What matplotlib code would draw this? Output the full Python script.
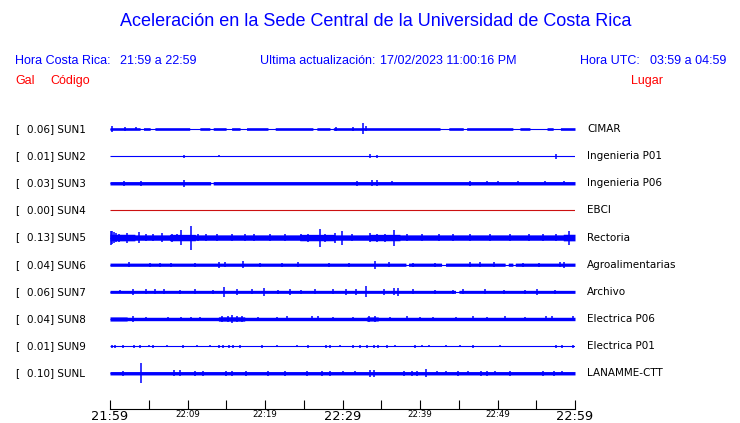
import numpy as np
import matplotlib
matplotlib.use('Agg')
import matplotlib.pyplot as plt

W, H = 740, 423
BLUE = '#0000ff'
RED = '#ff0000'
SANS = 'Liberation Sans'

CODES = ['SUN1', 'SUN2', 'SUN3', 'SUN4', 'SUN5', 'SUN6', 'SUN7', 'SUN8', 'SUN9', 'SUNL']
GAL = ['0.06', '0.01', '0.03', '0.00', '0.13', '0.04', '0.06', '0.04', '0.01', '0.10']
PLACES = ['CIMAR', 'Ingenieria P01', 'Ingenieria P06', 'EBCI', 'Rectoria', 'Agroalimentarias',
          'Archivo', 'Electrica P06', 'Electrica P01', 'LANAMME-CTT']
# background envelope half-amplitude of each trace (0.01 Gal-ish units, 1 unit ~ 1 px)
BASE_AMP = [1.3, 0.5, 1.7, 0.5, 2.7, 1.6, 1.5, 1.7, 0.5, 1.7]
TRACE_COLORS = [BLUE, BLUE, BLUE, '#cc1010', BLUE, BLUE, BLUE, BLUE, BLUE, BLUE]

# minutes after 21:59
TICK_MIN = np.arange(0, 61, 5)
TICK_LABELS = ['21:59', '', '22:09', '', '22:19', '', '22:29', '', '22:39', '', '22:49', '', '22:59']
BIG_LABELS = ['21:59', '22:29', '22:59']

# quiet stretches (trace drops to a thin line): (start, end)
SUN1_QUIET = [(3.9, 4.3), (5.2, 5.8), (10.3, 11.6), (12.9, 13.3), (15.0, 15.7), (16.8, 17.6),
              (20.4, 21.3), (26.2, 26.7), (28.4, 28.8), (42.6, 43.7), (45.6, 46.0), (52.0, 52.9),
              (54.2, 56.4), (57.2, 58.1)]
SUN3_QUIET = [(13.0, 13.3)]
SUN6_QUIET = [(38.2, 38.5), (42.8, 43.3), (51.0, 51.4), (52.0, 52.3)]
SUN7_QUIET = [(44.6, 45.0)]

# louder stretches: (start, end, half-amplitude)
SUN5_BURSTS = [(0.0, 3.2, 3.3), (7.7, 11.0, 3.2), (24.5, 29.0, 3.2), (33.5, 37.4, 3.2),
               (58.5, 60.0, 3.3)]
SUN8_BURSTS = [(0.0, 2.2, 2.1), (14.0, 17.4, 2.2), (33.1, 34.6, 2.1)]

# isolated peaks: (minute, half-amplitude)
SUN1_PEAKS = [(0.3, 3.0), (1.9, 2.0), (3.4, 1.5), (29.2, 2.0), (31.3, 2.0), (32.6, 5.5), (33.0, 2.5)]
SUN2_PEAKS = [(9.5, 1.5), (14.1, 1.0), (33.6, 2.0), (34.4, 1.5), (57.5, 2.5)]
SUN3_PEAKS = [(1.8, 2.5), (4.0, 2.5), (9.5, 3.5), (31.9, 2.5), (33.8, 3.0), (34.5, 3.0), (36.4, 2.0),
              (46.5, 2.5), (48.6, 2.0), (50.0, 2.0), (52.7, 2.0), (56.1, 2.0), (58.6, 2.0)]
SUN4_PEAKS = []
SUN5_PEAKS = [(0.1, 7.0), (0.3, 6.5), (0.5, 5.5), (0.8, 4.5), (1.2, 4.0), (2.2, 5.0), (3.7, 5.5),
              (4.6, 3.5), (5.5, 3.5), (6.7, 4.5), (8.0, 4.0), (8.6, 3.5), (9.2, 7.5), (10.5, 12.0),
              (11.3, 3.5), (12.4, 3.5), (13.8, 3.5), (15.7, 3.5), (17.4, 3.5), (18.6, 3.5),
              (20.6, 3.5), (22.6, 3.5), (24.7, 3.5), (25.6, 4.0), (27.1, 9.0), (27.8, 4.0),
              (29.0, 5.0), (29.9, 7.0), (31.2, 3.5), (33.6, 4.5), (34.4, 4.0), (35.5, 4.0),
              (36.7, 8.0), (38.3, 3.5), (40.2, 3.5), (42.4, 3.5), (44.3, 3.5), (46.5, 3.5),
              (49.0, 3.5), (51.6, 3.5), (54.0, 3.5), (55.9, 3.5), (57.6, 3.5), (59.2, 7.0)]
SUN6_PEAKS = [(2.4, 2.5), (5.2, 2.0), (6.5, 2.0), (7.9, 2.0), (11.0, 2.0), (14.0, 3.0), (14.8, 2.5),
              (17.1, 3.5), (19.4, 2.0), (22.2, 2.0), (24.2, 2.5), (28.2, 2.0), (30.8, 2.0),
              (34.2, 4.0), (36.0, 2.5), (39.1, 2.0), (41.9, 2.0), (46.5, 2.5), (47.7, 2.5),
              (49.5, 2.5), (53.3, 2.0), (55.4, 2.0), (58.0, 2.5), (58.6, 3.0)]
SUN7_PEAKS = [(1.3, 1.5), (3.0, 3.0), (4.6, 2.5), (5.8, 2.5), (7.0, 2.5), (9.0, 2.0), (11.0, 2.5),
              (13.3, 2.0), (14.7, 5.0), (16.4, 3.0), (18.3, 2.5), (19.9, 4.0), (21.7, 2.0),
              (23.2, 3.0), (24.7, 2.0), (26.5, 2.5), (28.8, 2.5), (30.5, 3.0), (31.8, 3.0),
              (33.0, 5.5), (35.3, 3.0), (36.6, 3.5), (37.2, 4.0), (39.1, 2.5), (41.9, 2.0),
              (44.3, 2.0), (45.6, 2.5), (48.4, 2.5), (50.8, 2.0), (53.5, 2.0), (55.1, 3.0), (57.4, 2.0)]
SUN8_PEAKS = [(3.0, 3.0), (4.7, 2.0), (7.5, 2.0), (9.2, 2.0), (10.5, 2.0), (11.6, 2.0), (14.5, 3.0),
              (15.2, 3.0), (15.7, 4.0), (16.4, 3.0), (17.0, 3.0), (19.1, 2.0), (21.5, 2.0),
              (22.8, 2.5), (26.1, 2.5), (26.8, 2.5), (28.8, 2.0), (31.4, 2.0), (33.4, 3.0),
              (34.2, 3.0), (36.1, 2.0), (38.3, 2.5), (40.0, 2.0), (41.7, 2.0), (44.7, 2.0),
              (46.9, 2.5), (48.6, 2.0), (51.0, 2.5), (53.5, 2.0), (56.3, 2.5), (57.0, 2.5), (59.8, 2.5)]
SUN9_PEAKS = [(0.2, 1.5), (0.6, 1.5), (1.7, 1.5), (3.1, 1.5), (3.9, 1.5), (5.0, 1.0), (5.5, 1.5),
              (7.3, 1.0), (9.4, 1.5), (11.2, 1.0), (12.9, 1.0), (14.0, 1.5), (14.6, 1.5),
              (15.3, 1.5), (15.9, 1.5), (16.8, 1.5), (19.6, 1.5), (21.5, 1.0), (24.1, 1.0),
              (25.6, 1.5), (27.9, 1.5), (28.4, 1.5), (29.7, 1.0), (31.4, 1.5), (32.3, 1.5),
              (33.1, 1.5), (34.0, 1.5), (34.6, 1.5), (35.7, 1.5), (36.8, 1.0), (39.4, 1.5),
              (40.2, 1.0), (41.1, 1.0), (43.4, 1.0), (45.2, 1.0), (46.9, 1.5), (50.3, 1.0),
              (57.6, 1.5), (58.3, 1.5), (59.7, 1.5)]
SUNL_PEAKS = [(1.7, 2.5), (4.0, 10.0), (8.2, 3.0), (9.0, 3.0), (11.0, 2.5), (12.0, 2.5), (15.0, 2.5),
              (15.7, 2.5), (17.6, 2.5), (20.4, 2.5), (22.6, 2.5), (25.4, 2.5), (27.3, 2.5),
              (28.4, 2.5), (30.1, 2.0), (31.6, 2.0), (33.5, 3.5), (34.0, 3.5), (37.9, 2.5),
              (39.0, 2.5), (39.6, 2.5), (40.8, 4.0), (42.2, 2.0), (43.4, 2.0), (44.9, 2.5),
              (46.2, 2.0), (47.9, 2.5), (48.6, 2.5), (49.7, 2.0), (51.6, 2.5), (55.9, 2.5),
              (57.3, 2.5), (58.3, 2.0)]

QUIET = {'SUN1': SUN1_QUIET, 'SUN3': SUN3_QUIET, 'SUN6': SUN6_QUIET, 'SUN7': SUN7_QUIET}
BURSTS = {'SUN5': SUN5_BURSTS, 'SUN8': SUN8_BURSTS}
PEAKS = [SUN1_PEAKS, SUN2_PEAKS, SUN3_PEAKS, SUN4_PEAKS, SUN5_PEAKS, SUN6_PEAKS, SUN7_PEAKS,
         SUN8_PEAKS, SUN9_PEAKS, SUNL_PEAKS]


def fx(x):
    return x / W


def fy(y):
    return 1 - y / H


fig = plt.figure(figsize=(W / 100, H / 100), dpi=100)

# trace panel: rows are 27.14 px apart, first row at y=129 px
ROW = 27.14
top_px, bot_px, left_px, right_px = 115, 409, 110, 575
ax = fig.add_axes([fx(left_px), fy(bot_px), fx(right_px - left_px), (bot_px - top_px) / H])
ax.set_xlim(0, 60)
ax.set_ylim((bot_px - 129) / ROW, (top_px - 129) / ROW)
S = 1 / ROW

t = np.linspace(0, 60, 2401)
for i, code in enumerate(CODES):
    col = TRACE_COLORS[i]
    ax.hlines(i, 0, 60, color=col, lw=0.8)
    env = np.full_like(t, BASE_AMP[i])
    for a, b in QUIET.get(code, []):
        env[(t >= a) & (t <= b)] = 0.0
    for a, b, amp in BURSTS.get(code, []):
        m = (t >= a) & (t <= b)
        env[m] = np.maximum(env[m], amp)
    if BASE_AMP[i] > 0.6:
        ax.fill_between(t, i - env * S, i + env * S, color=col, lw=0)
    if PEAKS[i]:
        pt = [p[0] for p in PEAKS[i]]
        pa = np.array([p[1] for p in PEAKS[i]])
        ax.vlines(pt, i - pa * S, i + pa * S, color=col, lw=1.1)

for s in ['top', 'left', 'right']:
    ax.spines[s].set_visible(False)
ax.spines['bottom'].set_linewidth(0.8)
ax.set_yticks([])
ax.set_xticks(TICK_MIN)
ax.set_xticklabels(TICK_LABELS, family='DejaVu Sans')
ax.tick_params(axis='x', direction='in', length=6.5, width=0.8, pad=0.5, colors='black')
for lab in ax.get_xticklabels():
    lab.set_fontsize(9.3 if lab.get_text() in BIG_LABELS else 6.2)

# station labels
for i in range(len(CODES)):
    y = 129 + i * ROW
    fig.text(fx(15), fy(y), '[', fontsize=7.5, family='DejaVu Sans', va='center')
    fig.text(fx(27), fy(y), f'{GAL[i]}] {CODES[i]}', fontsize=7.5, family='DejaVu Sans', va='center')
    fig.text(fx(587), fy(y), PLACES[i], fontsize=7.5, family='DejaVu Sans', va='center')

# header
fig.text(fx(375.5), fy(22), 'Aceleración en la Sede Central de la Universidad de Costa Rica',
         fontsize=13, family=SANS, color=BLUE, ha='center', va='center')
fig.text(fx(15), fy(61), 'Hora Costa Rica:', fontsize=9, family=SANS, color=BLUE, va='center')
fig.text(fx(120), fy(61), '21:59 a 22:59', fontsize=9, family=SANS, color=BLUE, va='center')
fig.text(fx(260), fy(61), 'Ultima actualización:', fontsize=9, family=SANS, color=BLUE, va='center')
fig.text(fx(380.5), fy(61), '17/02/2023 11:00:16 PM', fontsize=9, family=SANS, color=BLUE, va='center')
fig.text(fx(580.5), fy(61), 'Hora UTC:', fontsize=9, family=SANS, color=BLUE, va='center')
fig.text(fx(650.5), fy(61), '03:59 a 04:59', fontsize=9, family=SANS, color=BLUE, va='center')
fig.text(fx(15), fy(81), 'Gal', fontsize=9, family=SANS, color=RED, va='center')
fig.text(fx(50), fy(81), 'Código', fontsize=9, family=SANS, color=RED, va='center')
fig.text(fx(630.5), fy(81), 'Lugar', fontsize=9, family=SANS, color=RED, va='center')

fig.savefig('out.png', dpi=100)
